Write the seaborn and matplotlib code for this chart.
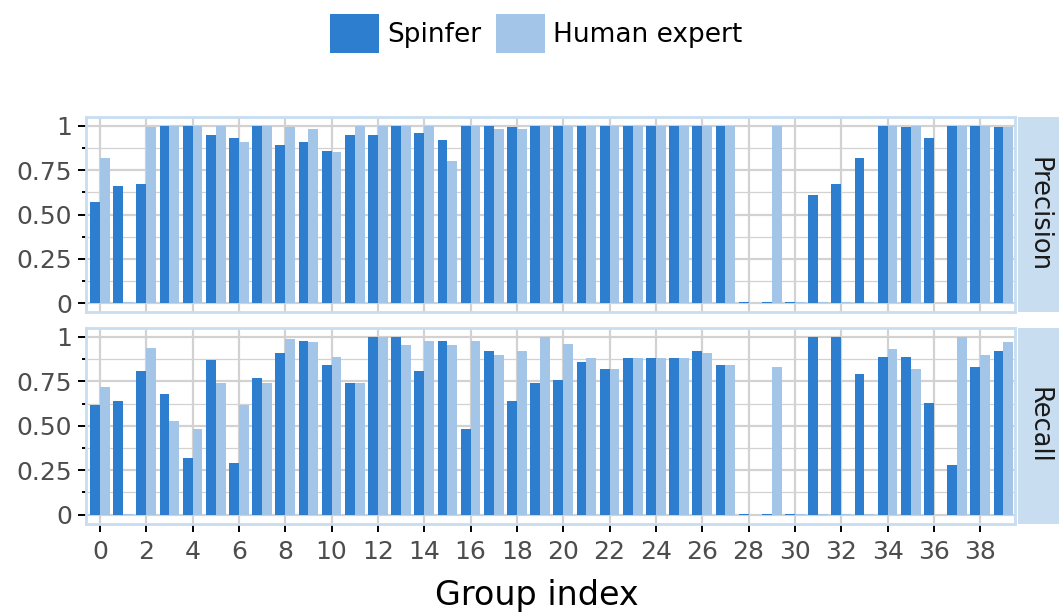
import numpy as np
import pandas as pd
import seaborn as sns
import matplotlib.pyplot as plt
from matplotlib.patches import Patch
from matplotlib.ticker import MultipleLocator, FixedLocator, FixedFormatter

# ---- data -------------------------------------------------------------
groups = list(range(40))
methods = ["Spinfer", "Human expert"]
metrics = ["Precision", "Recall"]

precision_spinfer = [0.57, 0.66, 0.67, 1.00, 1.00, 0.95, 0.93, 1.00, 0.89, 0.91,
                     0.86, 0.95, 0.95, 1.00, 0.96, 0.92, 1.00, 1.00, 0.99, 1.00,
                     1.00, 1.00, 1.00, 1.00, 1.00, 1.00, 1.00, 1.00, 0.005, 0.005,
                     0.005, 0.61, 0.67, 0.82, 1.00, 0.99, 0.93, 1.00, 1.00, 0.99]
precision_human = [0.82, 0.005, 0.99, 1.00, 1.00, 1.00, 0.91, 1.00, 0.99, 0.98,
                   0.85, 1.00, 1.00, 1.00, 1.00, 0.80, 1.00, 0.98, 0.98, 1.00,
                   1.00, 1.00, 1.00, 1.00, 1.00, 1.00, 1.00, 1.00, 0.00, 1.00,
                   0.005, 0.005, 0.005, 0.005, 1.00, 1.00, 0.00, 1.00, 1.00, 0.99]
recall_spinfer = [0.62, 0.64, 0.81, 0.68, 0.32, 0.87, 0.29, 0.77, 0.91, 0.98,
                  0.84, 0.74, 1.00, 1.00, 0.81, 0.98, 0.48, 0.92, 0.64, 0.74,
                  0.76, 0.86, 0.82, 0.88, 0.88, 0.88, 0.92, 0.84, 0.005, 0.005,
                  0.005, 1.00, 1.00, 0.79, 0.89, 0.89, 0.63, 0.28, 0.83, 0.92]
recall_human = [0.72, 0.005, 0.94, 0.53, 0.48, 0.74, 0.62, 0.74, 0.99, 0.97,
                0.89, 0.74, 1.00, 0.955, 0.98, 0.955, 0.98, 0.90, 0.92, 1.00,
                0.96, 0.88, 0.82, 0.88, 0.88, 0.88, 0.91, 0.84, 0.00, 0.83,
                0.005, 0.005, 0.005, 0.005, 0.93, 0.82, 0.00, 1.00, 0.90, 0.97]

y_ticks = [0, 0.25, 0.50, 0.75, 1]
y_tick_labels = ["0", "0.25", "0.50", "0.75", "1"]
x_ticks = list(range(0, 40, 2))

# ---- long-form table ---------------------------------------------------
series = {
    ("Precision", "Spinfer"): precision_spinfer,
    ("Precision", "Human expert"): precision_human,
    ("Recall", "Spinfer"): recall_spinfer,
    ("Recall", "Human expert"): recall_human,
}
rows = []
for (metric, method), vals in series.items():
    for g, v in zip(groups, vals):
        rows.append({"metric": metric, "method": method, "group": g, "value": v})
df = pd.DataFrame(rows)

# ---- styling -----------------------------------------------------------
sns.set_style("white")
plt.rcParams["font.family"] = ["DejaVu Sans"]

palette = {"Spinfer": "#2e7ecf", "Human expert": "#a3c6e8"}
strip_color = "#c8ddf0"
grid_color = "#d2d2d2"
tick_label_color = "#4d4d4d"

W, H = 1059, 612
fig = plt.figure(figsize=(W / 100, H / 100), dpi=100)

left_px, right_px = 86, 1015
panels = {"Precision": (116.8, 312.2), "Recall": (328.1, 523.6)}

for i, metric in enumerate(metrics):
    top_px, bot_px = panels[metric]
    ax = fig.add_axes([left_px / W, 1 - bot_px / H,
                       (right_px - left_px) / W, (bot_px - top_px) / H])
    sub = df[df["metric"] == metric]
    sns.barplot(data=sub, x="group", y="value", hue="method",
                hue_order=methods, order=groups, palette=palette,
                width=0.85, gap=0, saturation=1, legend=False,
                linewidth=0, errorbar=None, ax=ax)

    ax.set_xlim(-0.6, 39.5)
    ax.set_ylim(-0.05, 1.05)
    ax.set_axisbelow(True)

    ax.yaxis.set_major_locator(FixedLocator(y_ticks))
    ax.yaxis.set_major_formatter(FixedFormatter(y_tick_labels))
    ax.yaxis.set_minor_locator(MultipleLocator(0.125))
    ax.xaxis.set_major_locator(FixedLocator(x_ticks))
    ax.xaxis.set_major_formatter(FixedFormatter([str(t) for t in x_ticks]))

    ax.grid(which="major", color=grid_color, linewidth=1.6)
    ax.grid(which="minor", axis="y", color=grid_color, linewidth=0.9)

    ax.tick_params(axis="y", which="major", length=6, width=1.4, color="black",
                   labelsize=18, labelcolor=tick_label_color, pad=4, left=True)
    ax.tick_params(axis="y", which="minor", length=3, width=1.4, color="black",
                   left=True)
    ax.tick_params(axis="x", which="major", length=6, width=1.4, color="black",
                   labelsize=18, labelcolor=tick_label_color, pad=5.5,
                   bottom=(metric == "Recall"), labelbottom=(metric == "Recall"))

    for sp in ax.spines.values():
        sp.set_visible(True)
        sp.set_color(strip_color)
        sp.set_linewidth(2)

    ax.set_ylabel("")
    ax.set_xlabel("")

    # facet strip on the right
    sax = fig.add_axes([1018 / W, 1 - bot_px / H, (W - 1018) / W,
                        (bot_px - top_px) / H])
    sax.set_facecolor(strip_color)
    sax.set_xticks([])
    sax.set_yticks([])
    for sp in sax.spines.values():
        sp.set_visible(False)
    sax.text(0.5, 0.5, metric, rotation=270, ha="center", va="center",
             fontsize=18.5, color="#1a1a1a", transform=sax.transAxes)

# shared x-axis title
fig.text(537 / W, 1 - 595 / H, "Group index", ha="center", va="center",
         fontsize=24, color="black")

handles = [Patch(facecolor=palette[m], edgecolor="none", label=m) for m in methods]
leg = fig.legend(handles=handles, loc="center", bbox_to_anchor=(0.506, 0.945),
                 ncol=2, frameon=False, fontsize=19, handlelength=1.87,
                 handleheight=1.87, handletextpad=0.3, columnspacing=0.55,
                 borderpad=0)
for t in leg.get_texts():
    t.set_color("black")

fig.savefig("out.png", dpi=100)
